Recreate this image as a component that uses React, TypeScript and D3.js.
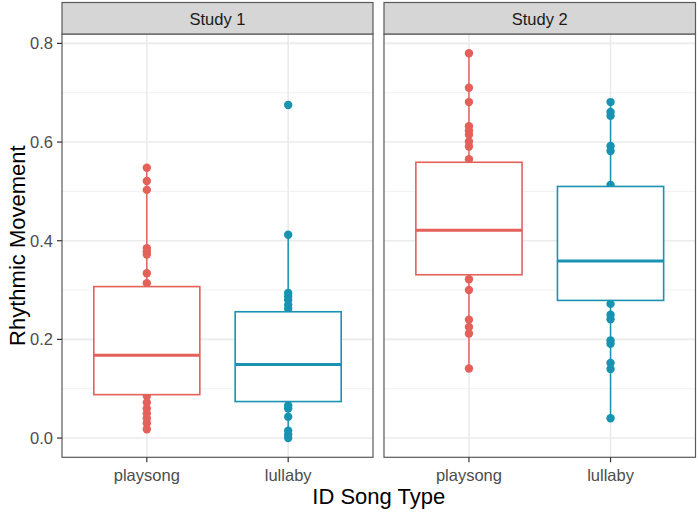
import React from "react";
import * as d3 from "d3";

const categories = ["playsong", "lullaby"];
const studies = ["Study 1", "Study 2"];

// visible points per group (study index, category)
const s1Playsong = [0.548, 0.521, 0.503, 0.385, 0.378, 0.372, 0.334, 0.314, 0.085, 0.072, 0.06, 0.05, 0.04, 0.03, 0.018];
const s1Lullaby = [0.675, 0.412, 0.294, 0.287, 0.28, 0.27, 0.262, 0.066, 0.06, 0.043, 0.015, 0.007, 0.0];
const s2Playsong = [0.78, 0.71, 0.681, 0.632, 0.623, 0.615, 0.601, 0.591, 0.565, 0.322, 0.3, 0.24, 0.225, 0.212, 0.141];
const s2Lullaby = [0.681, 0.661, 0.653, 0.592, 0.582, 0.513, 0.272, 0.25, 0.241, 0.198, 0.191, 0.152, 0.14, 0.04];

// box stats: [study1 playsong, study1 lullaby, study2 playsong, study2 lullaby]
const q1 = [0.088, 0.074, 0.331, 0.279];
const medians = [0.168, 0.149, 0.421, 0.359];
const q3 = [0.307, 0.256, 0.559, 0.51];
const whiskerLo = [0.018, 0.0, 0.141, 0.04];
const whiskerHi = [0.548, 0.412, 0.78, 0.681];

const yTicks = [0, 0.2, 0.4, 0.6, 0.8];
const yMinor = [0.1, 0.3, 0.5, 0.7];

const colors = { playsong: "#E4615A", lullaby: "#1893B1" };

export default function App() {
  const W = 698, H = 512;
  const panelTop = 34, panelBottom = 457.3;
  const panels = [
    { left: 62, right: 373 },
    { left: 384, right: 695.5 },
  ];
  const groups = [
    { s: 0, c: "playsong", pts: s1Playsong },
    { s: 0, c: "lullaby", pts: s1Lullaby },
    { s: 1, c: "playsong", pts: s2Playsong },
    { s: 1, c: "lullaby", pts: s2Lullaby },
  ];
  const all = groups.flatMap((g) => g.pts);
  const [mn, mx] = d3.extent(all) as [number, number];
  const pad = (mx - mn) * 0.05;
  const y = d3.scaleLinear().domain([mn - pad, mx + pad]).range([panelBottom, panelTop]);
  const xs = panels.map((p) =>
    d3.scalePoint<string>().domain(categories).range([p.left, p.right]).padding(0.6)
  );
  const font = "'Liberation Sans', Arial, Helvetica, sans-serif";

  return (
    <svg width={W} height={H} style={{ position: "absolute", left: 0, top: 0, background: "#fff" }} fontFamily={font}>
      <rect x={0} y={0} width={W} height={H} fill="#fff" />
      {panels.map((p, i) => {
        const x = xs[i];
        const bw = x.step() * 0.75;
        return (
          <g key={i}>
            {yMinor.map((v) => (
              <line key={"mi" + v} x1={p.left} x2={p.right} y1={y(v)} y2={y(v)} stroke="#F1F1F1" strokeWidth={1} />
            ))}
            {yTicks.map((v) => (
              <line key={"ma" + v} x1={p.left} x2={p.right} y1={y(v)} y2={y(v)} stroke="#EBEBEB" strokeWidth={1.6} />
            ))}
            {categories.map((c) => (
              <line key={"vx" + c} x1={x(c)} x2={x(c)} y1={panelTop} y2={panelBottom} stroke="#EBEBEB" strokeWidth={1.6} />
            ))}
            {groups
              .map((g, gi) => ({ ...g, gi }))
              .filter((g) => g.s === i)
              .map((g) => {
                const cx = x(g.c) as number;
                const col = colors[g.c as "playsong" | "lullaby"];
                return (
                  <g key={g.c}>
                    {g.pts.map((v, k) => (
                      <circle key={k} cx={cx} cy={y(v)} r={4.2} fill={col} />
                    ))}
                    <line x1={cx} x2={cx} y1={y(q3[g.gi])} y2={y(whiskerHi[g.gi])} stroke={col} strokeWidth={1.5} />
                    <line x1={cx} x2={cx} y1={y(q1[g.gi])} y2={y(whiskerLo[g.gi])} stroke={col} strokeWidth={1.5} />
                    <rect
                      x={cx - bw / 2}
                      y={y(q3[g.gi])}
                      width={bw}
                      height={y(q1[g.gi]) - y(q3[g.gi])}
                      fill="#fff"
                      stroke={col}
                      strokeWidth={1.6}
                    />
                    <line x1={cx - bw / 2} x2={cx + bw / 2} y1={y(medians[g.gi])} y2={y(medians[g.gi])} stroke={col} strokeWidth={3} />
                  </g>
                );
              })}
            <rect x={p.left} y={panelTop} width={p.right - p.left} height={panelBottom - panelTop} fill="none" stroke="#5A5A5A" strokeWidth={1.2} />
            <rect x={p.left} y={2.5} width={p.right - p.left} height={panelTop - 2.5} fill="#D6D6D6" stroke="#5A5A5A" strokeWidth={1.2} />
            <text x={(p.left + p.right) / 2} y={19} textAnchor="middle" dominantBaseline="central" fontSize={16.5} fill="#1A1A1A">
              {studies[i]}
            </text>
            {categories.map((c) => (
              <g key={"xt" + c}>
                <line x1={x(c)} x2={x(c)} y1={panelBottom} y2={panelBottom + 5} stroke="#333" strokeWidth={1.2} />
                <text x={x(c)} y={481} textAnchor="middle" fontSize={16.5} fill="#4D4D4D">
                  {c}
                </text>
              </g>
            ))}
          </g>
        );
      })}
      {yTicks.map((v) => (
        <g key={"yt" + v}>
          <line x1={57} x2={62} y1={y(v)} y2={y(v)} stroke="#333" strokeWidth={1.2} />
          <text x={53} y={y(v)} textAnchor="end" dominantBaseline="central" fontSize={16.5} fill="#4D4D4D">
            {d3.format(".1f")(v)}
          </text>
        </g>
      ))}
      <text
        transform={`translate(25, ${(panelTop + panelBottom) / 2}) rotate(-90)`}
        textAnchor="middle"
        fontSize={22}
        fill="#000"
      >
        Rhythmic Movement
      </text>
      <text x={(panels[0].left + panels[1].right) / 2} y={504} textAnchor="middle" fontSize={22} fill="#000">
        ID Song Type
      </text>
    </svg>
  );
}
